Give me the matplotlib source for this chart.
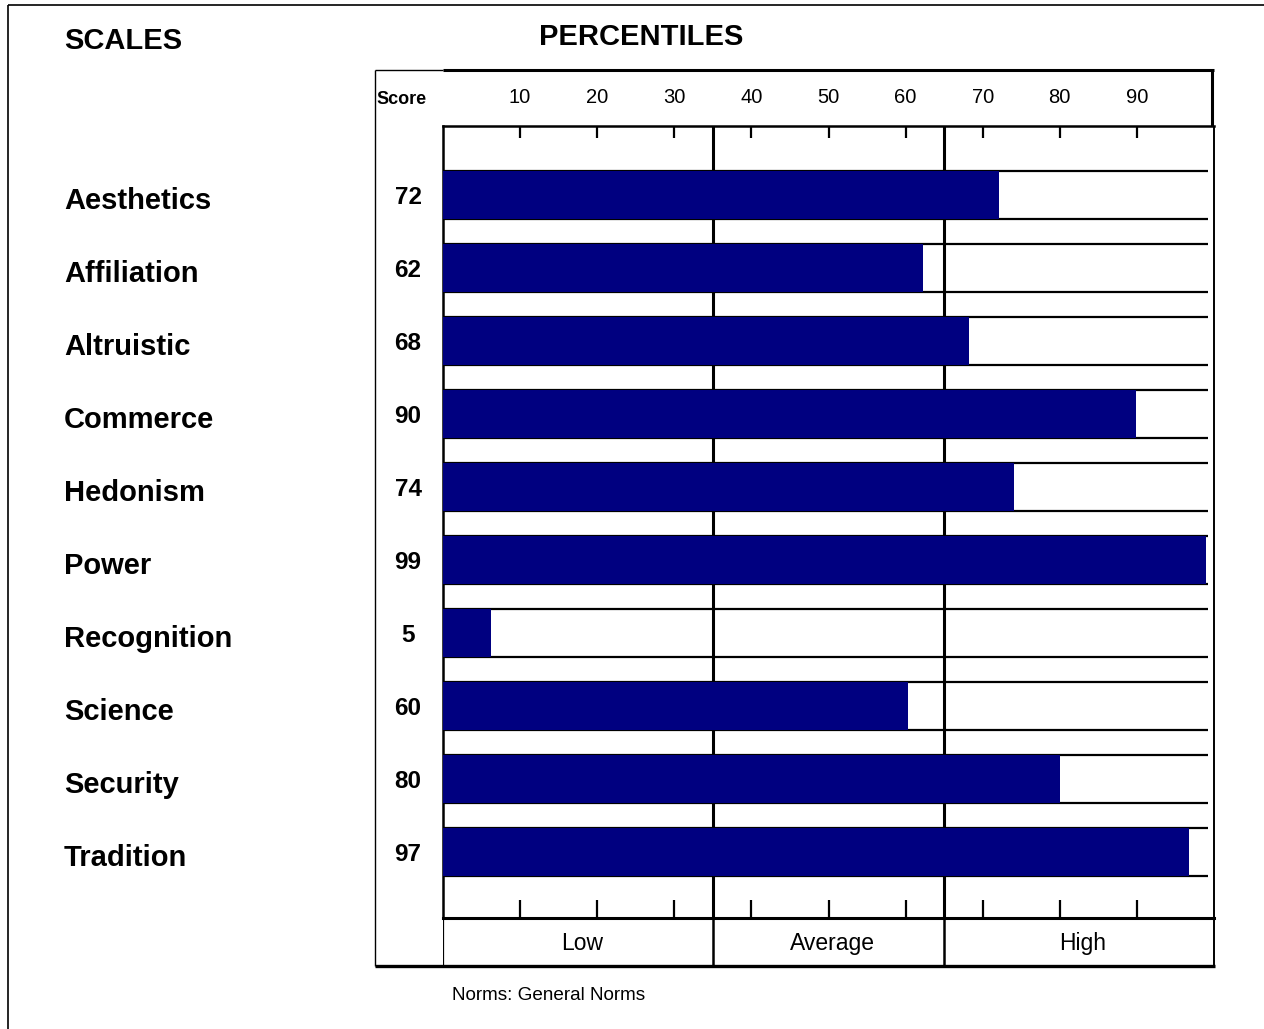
import matplotlib
matplotlib.use("Agg")
import matplotlib.pyplot as plt
from matplotlib.transforms import blended_transform_factory

plt.rcParams['font.family'] = ['Liberation Sans', 'DejaVu Sans']

# data
scales = ["Aesthetics", "Affiliation", "Altruistic", "Commerce", "Hedonism",
          "Power", "Recognition", "Science", "Security", "Tradition"]
scores = [72, 62, 68, 90, 74, 99, 5, 60, 80, 97]
# bar lengths
percentiles = [72.1, 62.3, 68.2, 89.9, 74.1, 99.0, 6.2, 60.3, 80.0, 96.8]
tick_values = [10, 20, 30, 40, 50, 60, 70, 80, 90]
band_edges = [0, 35, 65, 100]
band_labels = ["Low", "Average", "High"]

W, H = 1264, 1029
fig = plt.figure(figsize=(W / 100, H / 100), dpi=100)

# overlay in pixel coordinates for frame and header
bg = fig.add_axes([0, 0, 1, 1], zorder=0)
bg.set_xlim(0, W)
bg.set_ylim(H, 0)
bg.axis("off")

def px_line(x0, y0, x1, y1, lw):
    bg.plot([x0, x1], [y0, y1], color="black", lw=lw, solid_capstyle="butt")

# outer frame
px_line(8, 5, W, 5, 1.2)
px_line(8, 5, 8, H, 1.2)
# score column box and header
px_line(375, 70, 443, 70, 1.0)
px_line(443, 70, 1214, 70, 2.2)
px_line(375, 70, 375, 966, 1.0)
px_line(1212, 70, 1212, 126, 2.2)
px_line(1214, 126, 1214, 966, 1.4)
px_line(375, 966, 1215, 966, 2.4)

bg.text(64, 41, "SCALES", fontsize=21, fontweight="bold", va="center", ha="left")
bg.text(641, 37, "PERCENTILES", fontsize=21, fontweight="bold", va="center", ha="center")
bg.text(376, 100, "Score", fontsize=13, fontweight="bold", va="center", ha="left")
bg.text(452, 996, "Norms: General Norms", fontsize=13.6, va="center", ha="left")

# main data axes
x0, x1, ytop, ybot = 443, 1214, 126, 918
ax = fig.add_axes([x0 / W, 1 - ybot / H, (x1 - x0) / W, (ybot - ytop) / H], zorder=1)
ax.set_facecolor("none")
ax.set_xlim(0, 100)
ax.set_ylim(9.904, -0.945)

n = len(scales)
rows = list(range(n))
bar_h = 0.66

# band dividers behind bars
for e in band_edges[1:-1]:
    ax.axvline(e, color="black", lw=2.2, zorder=1)

ax.barh(rows, percentiles, height=bar_h, color="#000080", zorder=3)
ax.hlines([r - bar_h / 2 for r in rows] + [r + bar_h / 2 for r in rows],
          0, 99.2, color="black", lw=1.6, zorder=2)

# tick marks: short at top, longer at bottom
xt = blended_transform_factory(ax.transData, ax.transAxes)
span = ybot - ytop
ax.vlines(tick_values, 1 - 12 / span, 1, transform=xt, color="black", lw=1.6)
ax.vlines(tick_values, 0, 18 / span, transform=xt, color="black", lw=1.6)

ax.set_xticks(tick_values)
ax.set_xticklabels([str(v) for v in tick_values], fontsize=14.5)
ax.tick_params(axis="x", top=True, bottom=False, labeltop=True,
               labelbottom=False, length=0, pad=14)
ax.set_yticks([])

for s in ["left", "top", "bottom"]:
    ax.spines[s].set_linewidth(1.8)
ax.spines["bottom"].set_linewidth(2.2)
ax.spines["right"].set_visible(False)

# row labels and scores
trans = blended_transform_factory(ax.transAxes, ax.transData)
for r, name, sc in zip(rows, scales, scores):
    ax.text((64 - x0) / (x1 - x0), r + 0.08, name, transform=trans, fontsize=21,
            fontweight="bold", ha="left", va="center", clip_on=False)
    ax.text((408 - x0) / (x1 - x0), r + 0.04, str(sc), transform=trans, fontsize=17.5,
            fontweight="bold", ha="center", va="center", clip_on=False)

# band label boxes below axes
bax = fig.add_axes([x0 / W, 1 - 966 / H, (x1 - x0) / W, 48 / H], zorder=1)
bax.set_xlim(0, 100)
bax.set_ylim(0, 1)
bax.axis("off")
for e in band_edges[1:-1]:
    bax.axvline(e, color="black", lw=1.8)
bax.axvline(0, color="black", lw=1.6)
for a, b, lab in zip(band_edges[:-1], band_edges[1:], band_labels):
    bax.text((a + b) / 2 + 0.5, 0.46, lab, fontsize=16.5, ha="center", va="center")

fig.savefig("out.png", dpi=100)
